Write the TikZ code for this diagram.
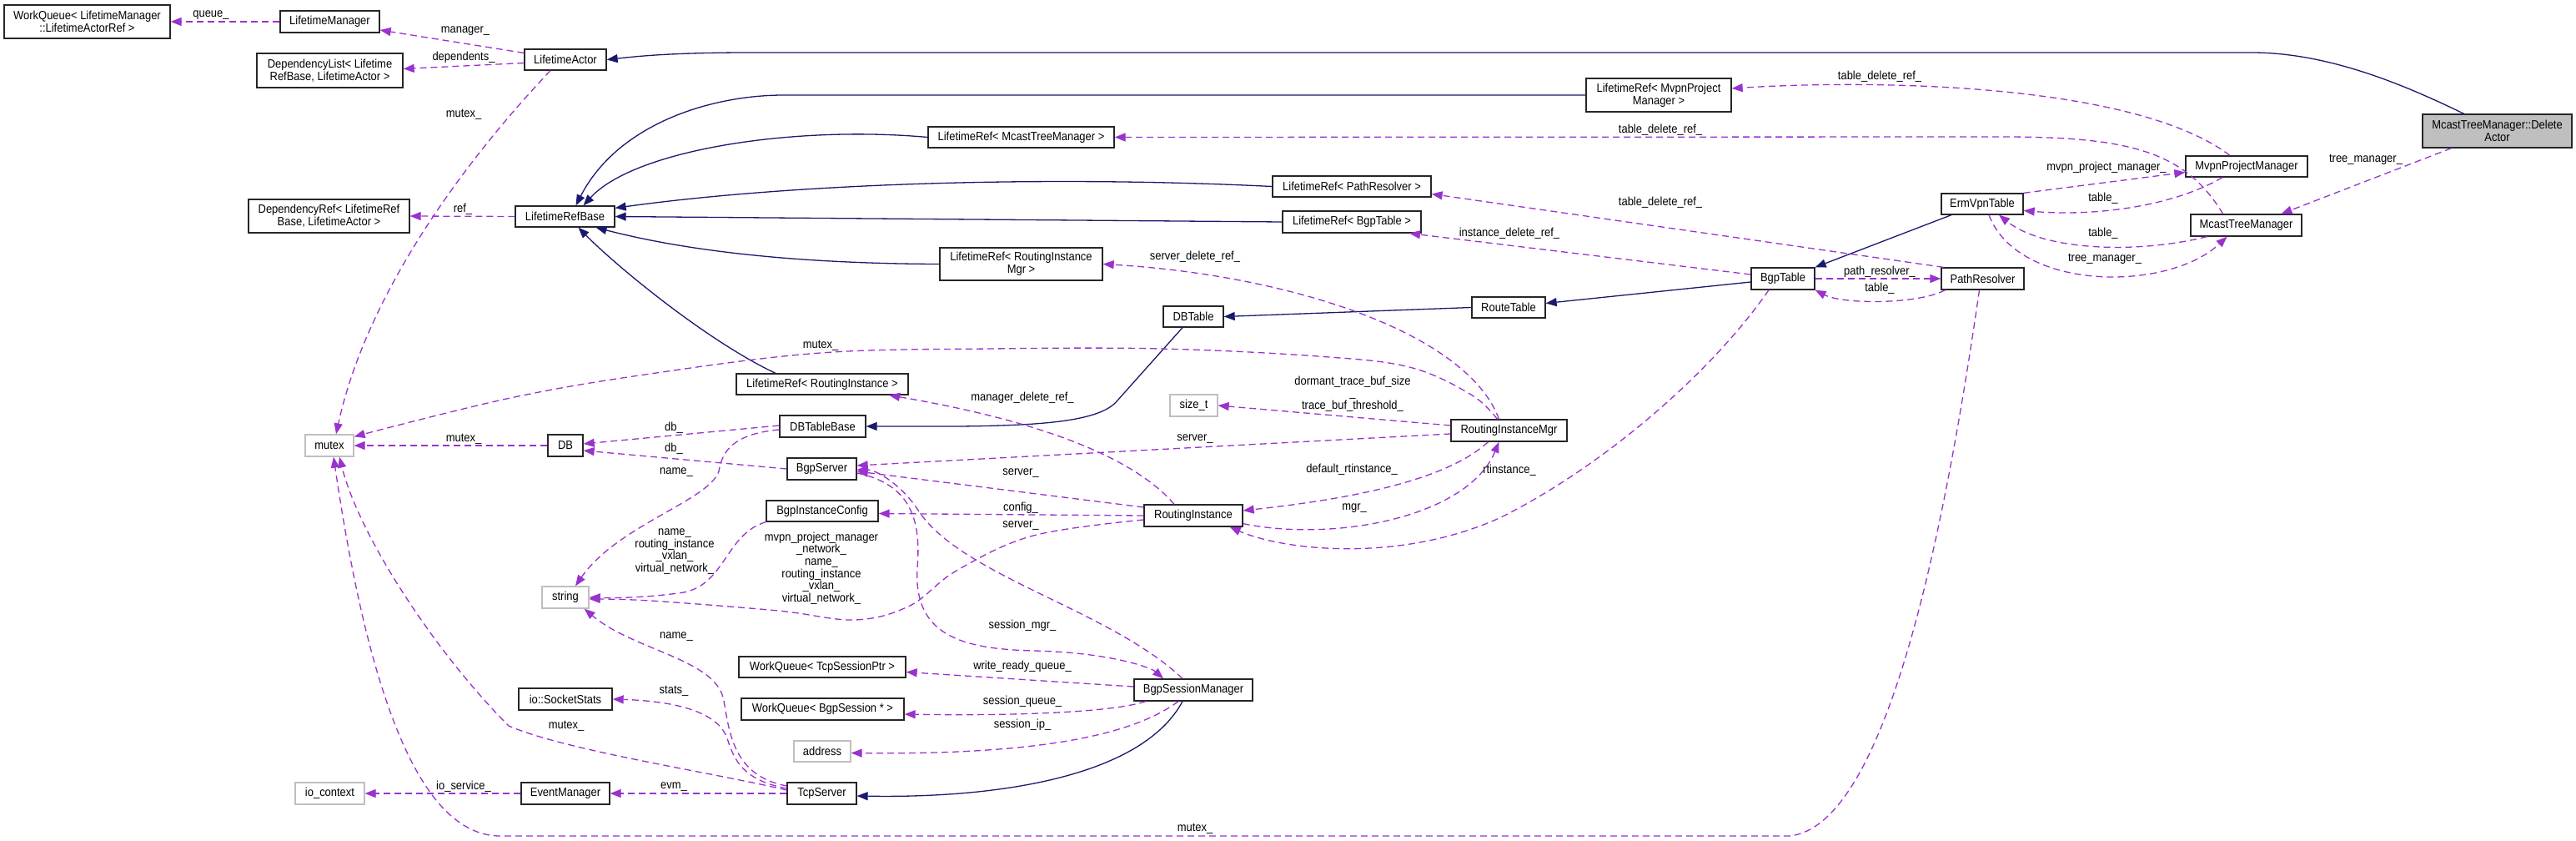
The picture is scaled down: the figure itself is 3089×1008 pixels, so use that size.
\documentclass[tikz,border=0pt]{standalone}
\usepackage{fontspec}
\setmainfont{Liberation Sans}[FakeStretch=0.9]
\usetikzlibrary{arrows.meta}
\definecolor{edgep}{HTML}{9A32CD}
\definecolor{navyb}{HTML}{191970}
\definecolor{boxgray}{HTML}{BFBFBF}
\newcommand\lbfont{\fontsize{14.4}{14.7}\selectfont}
\tikzset{
 cls/.style={draw=black!85, line width=1.3pt, fill=white, rectangle, inner sep=0pt, align=center, font=\lbfont},
 ext/.style={cls, draw=boxgray},
 rootbox/.style={cls, fill=boxgray},
 inh/.style={draw=navyb, line width=1.3pt, -{Triangle[length=13pt,width=10pt]}},
 use/.style={draw=edgep, line width=1.3pt, dash pattern=on 8pt off 5pt, -{Triangle[length=13pt,width=10pt]}},
 lbl/.style={inner sep=0pt, align=center, font=\lbfont},
}
\begin{document}
\begin{tikzpicture}[x=1pt,y=-1pt]
\useasboundingbox (0,0) rectangle (3089,1008);
% nodes
\node[cls,minimum width=199pt,minimum height=40pt] (wqlm) at (104.5,26) {WorkQueue< LifetimeManager\\::LifetimeActorRef >};
\node[cls,minimum width=119pt,minimum height=26pt] (lm) at (395.5,26) {LifetimeManager};
\node[cls,minimum width=175pt,minimum height=41pt] (dl) at (395.5,84.5) {DependencyList< Lifetime\\RefBase, LifetimeActor >};
\node[cls,minimum width=98pt,minimum height=25pt] (la) at (678,71.5) {LifetimeActor};
\node[cls,minimum width=193pt,minimum height=40pt] (dr) at (394.5,259) {DependencyRef< LifetimeRef\\Base, LifetimeActor >};
\node[cls,minimum width=119pt,minimum height=25pt] (lrb) at (677.5,259.5) {LifetimeRefBase};
\node[ext,minimum width=58pt,minimum height=26pt] (mutex) at (395,534) {mutex};
\node[cls,minimum width=42pt,minimum height=26pt] (db) at (678,534) {DB};
\node[ext,minimum width=56pt,minimum height=26pt] (string) at (678,716) {string};
\node[cls,minimum width=112pt,minimum height=26pt] (sock) at (678,838) {io::SocketStats};
\node[ext,minimum width=83pt,minimum height=26pt] (ioctx) at (395.5,951) {io\_context};
\node[cls,minimum width=106pt,minimum height=26pt] (evm) at (678,951) {EventManager};
\node[cls,minimum width=223pt,minimum height=25pt] (lrmtm) at (1224.5,164.5) {LifetimeRef< McastTreeManager >};
\node[cls,minimum width=195pt,minimum height=39pt] (lrrim) at (1224.5,316.5) {LifetimeRef< RoutingInstance\\Mgr >};
\node[cls,minimum width=206pt,minimum height=25pt] (lrri) at (986,460.5) {LifetimeRef< RoutingInstance >};
\node[cls,minimum width=103pt,minimum height=26pt] (dbtb) at (986.5,511) {DBTableBase};
\node[cls,minimum width=83pt,minimum height=26pt] (bgps) at (985.5,562) {BgpServer};
\node[cls,minimum width=134pt,minimum height=25pt] (bic) at (986,612.5) {BgpInstanceConfig};
\node[cls,minimum width=200pt,minimum height=25pt] (wqtcp) at (986,799.5) {WorkQueue< TcpSessionPtr >};
\node[cls,minimum width=195pt,minimum height=26pt] (wqbgp) at (986.5,850) {WorkQueue< BgpSession * >};
\node[ext,minimum width=68pt,minimum height=25pt] (addr) at (986,900.5) {address};
\node[cls,minimum width=83pt,minimum height=26pt] (tcps) at (985.5,951) {TcpServer};
\node[cls,minimum width=72pt,minimum height=25pt] (dbt) at (1431,379.5) {DBTable};
\node[ext,minimum width=57pt,minimum height=26pt] (sizet) at (1431.5,486) {size\_t};
\node[cls,minimum width=118pt,minimum height=26pt] (ri) at (1431,618) {RoutingInstance};
\node[cls,minimum width=142pt,minimum height=26pt] (bsm) at (1431,827) {BgpSessionManager};
\node[cls,minimum width=190pt,minimum height=25pt] (lrpr) at (1621,223.5) {LifetimeRef< PathResolver >};
\node[cls,minimum width=166pt,minimum height=26pt] (lrbt) at (1621,266) {LifetimeRef< BgpTable >};
\node[cls,minimum width=88pt,minimum height=25pt] (rt) at (1809,368.5) {RouteTable};
\node[cls,minimum width=139pt,minimum height=26pt] (rim) at (1809.5,516) {RoutingInstanceMgr};
\node[cls,minimum width=174pt,minimum height=40pt] (lrmpm) at (1989,114) {LifetimeRef< MvpnProject\\Manager >};
\node[cls,minimum width=76pt,minimum height=26pt] (bt) at (2138,334) {BgpTable};
\node[cls,minimum width=98pt,minimum height=25pt] (erm) at (2377,244.5) {ErmVpnTable};
\node[cls,minimum width=99pt,minimum height=26pt] (pr) at (2377.5,334) {PathResolver};
\node[cls,minimum width=146pt,minimum height=25pt] (mpm) at (2694,199.5) {MvpnProjectManager};
\node[cls,minimum width=133pt,minimum height=26pt] (mtm) at (2693.5,270) {McastTreeManager};
\node[rootbox,minimum width=179pt,minimum height=40pt] (root) at (2994.5,157) {McastTreeManager::Delete\\Actor};
% inheritance
\draw[inh] ([xshift=-40pt]root.north) .. controls (2880,100) and (2790,63) .. (2700,63) -- (900,63) .. controls (800,63) and (760,68) .. (la.east);
\draw[inh] (lrmpm.west) -- (940,114) .. controls (850,114) and (740,150) .. ([xshift=13pt]lrb.north);
\draw[inh] (lrmtm.west) .. controls (950,150) and (760,180) .. ([xshift=22pt]lrb.north);
\draw[inh] (lrpr.west) .. controls (1250,210) and (950,220) .. ([yshift=-3pt]lrb.north east);
\draw[inh] (lrbt.west) -- (lrb.east);
\draw[inh] (lrrim.west) .. controls (950,316) and (820,300) .. ([xshift=37pt]lrb.south);
\draw[inh] ([xshift=-56pt]lrri.north) .. controls (850,410) and (740,320) .. ([xshift=16pt]lrb.south);
\draw[inh] ([xshift=-13pt]dbt.south) -- (1340,480) .. controls (1320,505) and (1250,510) .. (1150,511) -- (dbtb.east);
\draw[inh] (rt.west) -- (dbt.east);
\draw[inh] ([yshift=-4pt]bt.west) -- ([yshift=5pt]rt.east);
\draw[inh] ([xshift=-37pt]erm.south) -- (bt.north east);
\draw[inh] ([xshift=-13pt]bsm.south) .. controls (1370,930) and (1200,957) .. ([yshift=-3pt]tcps.east);
% usage
\draw[use] (lm.west) -- (wqlm.east);
\draw[use] ([yshift=8pt]la.west) -- ([yshift=-10pt]lm.east);
\draw[use] ([yshift=-4pt]la.west) -- ([yshift=2pt]dl.east);
\draw[use] ([xshift=-18pt]la.south) .. controls (560,190) and (440,350) .. ([xshift=8pt]mutex.north);
\draw[use] (lrb.west) -- (dr.east);
\draw[use] (db.west) -- (mutex.east);
\draw[use] plot[smooth, tension=0.6] coordinates {([xshift=-14pt]rim.north) (1764,473) (1690,440) (1580,427) (1392,418) (1188,418) (984,423) (780,448) (612,477) ([yshift=-3pt]mutex.north east)};
\draw[use] ([yshift=1pt]dbtb.west) -- ([yshift=2pt]db.east);
\draw[use] (bgps.west) -- ([yshift=-6pt]db.east);
\draw[use] ([yshift=-4pt]dbtb.west) .. controls (880,520) and (866,540) .. (862,565) .. controls (850,600) and (740,630) .. ([xshift=12pt]string.north);
\draw[use] (bic.south west) .. controls (870,640) and (870,700) .. (820,710) .. controls (780,716) and (740,717) .. (string.east);
\draw[use] plot[smooth, tension=0.6] coordinates {([yshift=-5pt]ri.west) (1239,642) (1147,684) (1091,726) (1025,743) (933,732) (780,720) ([yshift=-2pt]string.east)};
\draw[use] ([yshift=9pt]tcps.west) .. controls (880,930) and (875,880) .. (868,840) .. controls (860,790) and (760,780) .. ([xshift=-6pt]string.south east);
\draw[use] ([yshift=6pt]tcps.west) .. controls (890,935) and (880,910) .. (872,885) .. controls (860,850) and (800,840) .. (sock.east);
\draw[use] ([yshift=4pt]tcps.west) .. controls (850,925) and (680,900) .. (610,870) .. controls (520,780) and (430,640) .. ([xshift=12pt]mutex.south);
\draw[use] (evm.west) -- (ioctx.east);
\draw[use] (tcps.west) -- (evm.east);
\draw[use] ([xshift=-4pt]pr.south) .. controls (2330,650) and (2260,990) .. (2146,1002) -- (600,1002) .. controls (500,1002) and (440,820) .. ([xshift=5pt]mutex.south);
\draw[use] ([xshift=-23pt]ri.north) .. controls (1370,560) and (1280,510) .. ([xshift=80pt]lrri.south);
\draw[use] ([xshift=-12pt]rim.north) .. controls (1760,400) and (1550,330) .. (lrrim.east);
\draw[use] ([yshift=6pt]rim.west) -- (sizet.east);
\draw[use] ([yshift=-4pt]rim.west) -- ([yshift=4pt]bgps.east);
\draw[use] ([yshift=10pt]ri.west) -- ([yshift=-3pt]bgps.east);
\draw[use] ([xshift=-13pt]bsm.north) .. controls (1330,730) and (1150,690) .. (1100,610) .. controls (1080,580) and (1050,563) .. ([yshift=-1pt]bgps.east);
\draw[use] ([yshift=-5pt]bgps.east) .. controls (1090,580) and (1105,620) .. (1100,680) .. controls (1095,760) and (1150,778) .. (1240,780) .. controls (1330,782) and (1380,800) .. ([xshift=-36pt]bsm.north);
\draw[use] ([yshift=4pt]bsm.west) -- ([yshift=-6pt]wqtcp.east);
\draw[use] ([xshift=-57pt]bsm.south) .. controls (1330,855) and (1200,858) .. ([yshift=-6pt]wqbgp.east);
\draw[use] ([xshift=-18pt]bsm.south) .. controls (1360,880) and (1250,905) .. ([yshift=-2pt]addr.east);
\draw[use] (ri.west) -- ([yshift=-3pt]bic.east);
\draw[use] ([yshift=4pt]ri.south east) .. controls (1600,650) and (1760,620) .. ([xshift=-12pt]rim.south);
\draw[use] ([xshift=-25pt]rim.south) .. controls (1730,580) and (1600,600) .. ([yshift=6pt]ri.east);
\draw[use] ([xshift=-17pt]bt.south) .. controls (2050,450) and (1920,560) .. (1800,620) .. controls (1680,675) and (1540,660) .. ([xshift=-16pt]ri.south east);
\draw[use] ([yshift=5pt]bt.west) -- ([xshift=69pt]lrbt.south);
\draw[use] ([xshift=-47pt]pr.north) -- ([yshift=-9pt]lrpr.east);
\draw[use] (bt.east) -- (pr.west);
\draw[use] ([xshift=-45pt]pr.south) .. controls (2300,365) and (2210,365) .. (bt.south east);
\draw[use] ([xshift=-28pt]mtm.north) .. controls (2620,180) and (2550,164) .. (2400,164) -- (lrmtm.east);
\draw[use] ([xshift=-20pt]mpm.north) .. controls (2560,100) and (2250,95) .. ([yshift=8pt]lrmpm.east);
\draw[use] ([xshift=-55pt]root.south) -- ([xshift=42pt]mtm.north);
\draw[use] (erm.north east) -- ([yshift=-7pt]mpm.west);
\draw[use] ([xshift=-29pt]mpm.south) .. controls (2610,245) and (2520,260) .. ([yshift=-8pt]erm.east);
\draw[use] ([xshift=-47pt]mtm.south) .. controls (2560,305) and (2450,300) .. ([xshift=20pt]erm.south);
\draw[use] ([xshift=8pt]erm.south) .. controls (2420,350) and (2600,350) .. ([xshift=-23pt]mtm.south);
% labels
\node[lbl] (t1) at (253,18) {queue\_};
\node[lbl] (t2) at (558,37) {manager\_};
\node[lbl] (t3) at (556,69) {dependents\_};
\node[lbl] (t4) at (556,137) {mutex\_};
\node[lbl] (t5) at (555,251) {ref\_};
\node[lbl] (t6) at (556,526) {mutex\_};
\node[lbl] (t7) at (984,414) {mutex\_};
\node[lbl] (t8) at (808,513) {db\_};
\node[lbl] (t9) at (808,538) {db\_};
\node[lbl] (t10) at (811,566) {name\_};
\node[lbl] (t11) at (809,661) {name\_\\routing\_instance\\\_vxlan\_\\virtual\_network\_};
\node[lbl] (t12) at (985,681) {mvpn\_project\_manager\\\_network\_\\name\_\\routing\_instance\\\_vxlan\_\\virtual\_network\_};
\node[lbl] (t13) at (811,763) {name\_};
\node[lbl] (t14) at (808,828) {stats\_};
\node[lbl] (t15) at (679,870) {mutex\_};
\node[lbl] (t16) at (556,943) {io\_service\_};
\node[lbl] (t17) at (808,943) {evm\_};
\node[lbl] (t18) at (1433,993) {mutex\_};
\node[lbl] (t19) at (1226,477) {manager\_delete\_ref\_};
\node[lbl] (t20) at (1433,526) {server\_};
\node[lbl] (t21) at (1224,567) {server\_};
\node[lbl] (t22) at (1224,609) {config\_};
\node[lbl] (t23) at (1224,630) {server\_};
\node[lbl] (t24) at (1226,750) {session\_mgr\_};
\node[lbl] (t25) at (1226,799) {write\_ready\_queue\_};
\node[lbl] (t26) at (1226,841) {session\_queue\_};
\node[lbl] (t27) at (1226,869) {session\_ip\_};
\node[lbl] (t28) at (1433,308) {server\_delete\_ref\_};
\node[lbl] (t29) at (1991,156) {table\_delete\_ref\_};
\node[lbl] (t30) at (1991,243) {table\_delete\_ref\_};
\node[lbl] (t31) at (1810,280) {instance\_delete\_ref\_};
\node[lbl] (t32) at (2254,92) {table\_delete\_ref\_};
\node[lbl] (t33) at (1622,472) {dormant\_trace\_buf\_size\\\_\\trace\_buf\_threshold\_};
\node[lbl] (t34) at (1621,563) {default\_rtinstance\_};
\node[lbl] (t35) at (1810,564) {rtinstance\_};
\node[lbl] (t36) at (1624,609) {mgr\_};
\node[lbl] (t37) at (2254,326) {path\_resolver\_};
\node[lbl] (t38) at (2254,346) {table\_};
\node[lbl] (t39) at (2837,191) {tree\_manager\_};
\node[lbl] (t40) at (2526,201) {mvpn\_project\_manager\_};
\node[lbl] (t41) at (2522,238) {table\_};
\node[lbl] (t42) at (2522,280) {table\_};
\node[lbl] (t43) at (2524,310) {tree\_manager\_};
\end{tikzpicture}
\end{document}
